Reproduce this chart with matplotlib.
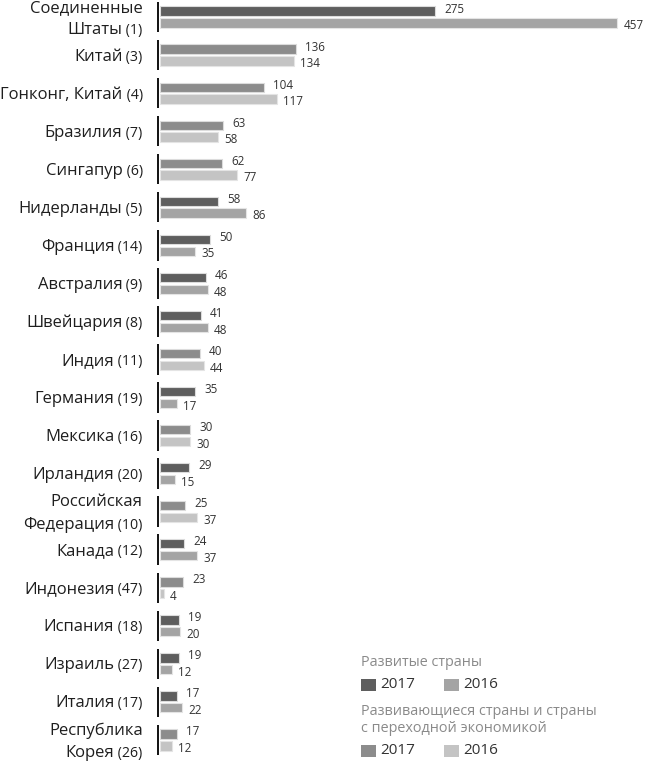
import matplotlib
matplotlib.use('Agg')
import matplotlib.pyplot as plt
from matplotlib.patches import Rectangle

countries = ['Соединенные\nШтаты', 'Китай', 'Гонконг, Китай', 'Бразилия',
             'Сингапур', 'Нидерланды', 'Франция', 'Австралия',
             'Швейцария', 'Индия', 'Германия', 'Мексика',
             'Ирландия', 'Российская\nФедерация', 'Канада', 'Индонезия',
             'Испания', 'Израиль', 'Италия', 'Республика\nКорея']
ranks_2016 = [1, 3, 4, 7, 6, 5, 14, 9, 8, 11, 19, 16, 20, 10, 12, 47, 18, 27, 17, 26]
values_2017 = [275, 136, 104, 63, 62, 58, 50, 46, 41, 40, 35, 30, 29, 25, 24, 23, 19, 19, 17, 17]
values_2016 = [457, 134, 117, 58, 77, 86, 35, 48, 48, 44, 17, 30, 15, 37, 37, 4, 20, 12, 22, 12]
developed = [True, False, False, False, False, True, True, True, True, False,
             True, False, True, False, True, False, True, True, True, False]
legend_titles = ['Развитые страны', 'Развивающиеся страны и страны\nс переходной экономикой']
legend_years = ['2017', '2016']

FONT = ['Open Sans', 'DejaVu Sans']
plt.rcParams['font.family'] = FONT

C_DEV17, C_DEV16 = '#5e5e5e', '#a4a4a4'
C_DVG17, C_DVG16 = '#8c8c8c', '#c4c4c4'
TXT = '#1e1e1e'

W, H = 651, 766
fig = plt.figure(figsize=(W / 100, H / 100), dpi=100)
ax = fig.add_axes([160 / W, 0, (W - 160) / W, 1])
ax.set_xlim(0, W - 160)
y0, step = 17, 38.05
ax.set_ylim((H - y0) / step, -y0 / step)
ax.axis('off')

n = len(countries)
ys = list(range(n))
off, bh = 0.155, 0.245
c17 = [C_DEV17 if d else C_DVG17 for d in developed]
c16 = [C_DEV16 if d else C_DVG16 for d in developed]
ax.barh([y - off for y in ys], values_2017, height=bh, color=c17,
        edgecolor='#dcdcdc', linewidth=0.8, zorder=3)
ax.barh([y + off for y in ys], values_2016, height=bh, color=c16,
        edgecolor='#e4e4e4', linewidth=0.8, zorder=3)

NAME_FS, RANK_FS = 12.0, 10.2
for y, v17, v16, name, rank in zip(ys, values_2017, values_2016, countries, ranks_2016):
    ax.plot([-2.5, -2.5], [y - 0.40, y + 0.40], color='#111111', lw=1.4,
            solid_capstyle='butt', zorder=4, clip_on=False)
    ax.annotate(str(v17), (v17, y - off), xytext=(6.5, 1.5), textcoords='offset points',
                ha='left', va='center', fontsize=8.4, color='#333333')
    ax.annotate(str(v16), (v16, y + off), xytext=(4.5, -2), textcoords='offset points',
                ha='left', va='center', fontsize=8.4, color='#333333')
    lines = name.split('\n')
    if len(lines) == 1:
        base_offsets = [-4.0]
    else:
        base_offsets = [3.8, -12.2]
    last = len(lines) - 1
    for k, (line, bo) in enumerate(zip(lines, base_offsets)):
        if k == last:
            rk = ax.annotate(f' ({rank})', (0, y), xytext=(-12.5, bo), textcoords='offset points',
                             ha='right', va='baseline', fontsize=RANK_FS, color=TXT,
                             annotation_clip=False)
            ax.annotate(line, (0, 0), xycoords=rk, xytext=(0, 0), textcoords='offset points',
                        ha='right', va='bottom', fontsize=NAME_FS, color=TXT,
                        annotation_clip=False)
        else:
            ax.annotate(line, (0, y), xytext=(-12.5, bo), textcoords='offset points',
                        ha='right', va='baseline', fontsize=NAME_FS, color=TXT,
                        annotation_clip=False)

# legend (figure pixel coordinates, top origin)
def fx(px):
    return px / W

def fy(py):
    return 1 - py / H

title_y = [662, 720]
swatch_y = [685, 751]
colors = [(C_DEV17, C_DEV16), (C_DVG17, C_DVG16)]
for t, ty, sy, (ca, cb) in zip(legend_titles, title_y, swatch_y, colors):
    fig.text(fx(361), fy(ty), t, ha='left', va='center', fontsize=10.4, color='#8a8a8a',
             linespacing=1.2)
    for sx, tx, col, lab in zip([361, 444], [380, 463], [ca, cb], legend_years):
        fig.patches.append(Rectangle((fx(sx), fy(sy + 6)), 15 / W, 12 / H, transform=fig.transFigure,
                                     facecolor=col, edgecolor='none'))
        fig.text(fx(tx), fy(sy), lab, ha='left', va='center', fontsize=11, color='#333333')

fig.savefig('out.png', dpi=100)
